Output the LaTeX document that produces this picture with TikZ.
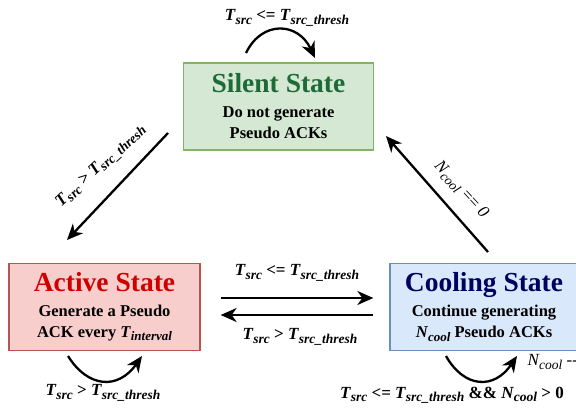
\documentclass[tikz,border=0pt]{standalone}
\usepackage{fontspec}
\setmainfont{Liberation Serif}
\usetikzlibrary{arrows.meta}
\definecolor{gfill}{HTML}{D5E8D4}
\definecolor{gline}{HTML}{82B366}
\definecolor{gtext}{HTML}{1E6B38}
\definecolor{rfill}{HTML}{F8CECC}
\definecolor{rline}{HTML}{B85450}
\definecolor{rtext}{HTML}{D00000}
\definecolor{bfill}{HTML}{DAE8FC}
\definecolor{bline}{HTML}{6C8EBF}
\definecolor{btext}{HTML}{00005E}
\newcommand\Lsub[2]{{\itshape #1\kern0.02em\raisebox{-0.42ex}{\fontsize{13.5}{13.5}\selectfont #2}}}
\newcommand\Bsub[2]{{\itshape #1\kern0.02em\raisebox{-0.42ex}{\fontsize{13}{13}\selectfont #2}}}
\newcommand\ttl{\fontsize{27.5}{30}\selectfont\bfseries}
\newcommand\bdy{\fontsize{16.5}{21}\selectfont\bfseries}
\newcommand\lbl{\fontsize{17}{18}\selectfont\bfseries}
\newcommand\lblr{\fontsize{17}{18}\selectfont}
\begin{document}
\begin{tikzpicture}[x=1pt,y=-1pt,
  state/.style={draw, line width=1.3pt, minimum height=87pt, inner sep=0pt, align=center, font=\bdy},
  conn/.style={line width=2.3pt, -{Stealth[length=16pt,width=14pt,inset=5pt]}},
  loop/.style={line width=2.3pt, -{Stealth[length=16pt,width=14pt,inset=5pt]}}]
\useasboundingbox (0,0) rectangle (576,409);
\clip (0,0) rectangle (576,409);
\node[state, fill=gfill, draw=gline, minimum width=190pt] (silent) at (278.5,106.5)
  {{\ttl\color{gtext}Silent State}\\[4pt]Do not generate\\Pseudo ACKs};
\node[state, fill=rfill, draw=rline, minimum width=191pt] (active) at (104.5,307)
  {{\ttl\color{rtext}Active State}\\[4pt]Generate a Pseudo\\ACK every \Bsub{T}{interval}};
\node[state, fill=bfill, draw=bline, minimum width=188pt] (cool) at (484,307)
  {{\ttl\color{btext}Cooling State}\\[4pt]Continue generating\\\Bsub{N}{cool} Pseudo ACKs};
% self loops
\coordinate (s1) at (246,53); \coordinate (s2) at (315,58);
\draw[loop] (s1) .. controls (262,20) and (298,22) .. (s2);
\node (ls) at (287,18) {\lbl \Lsub{T}{src} <= \Lsub{T}{src\_thresh}};
\coordinate (a1) at (68,356); \coordinate (a2) at (142,356);
\draw[loop] (a1) .. controls (88,388) and (118,390) .. (a2);
\node (la) at (103,393) {\lbl \Lsub{T}{src} > \Lsub{T}{src\_thresh}};
\coordinate (c1) at (446,356); \coordinate (c2) at (517,356);
\draw[loop] (c1) .. controls (464,388) and (494,390) .. (c2);
\node (lc) at (452,395) {\lbl \Lsub{T}{src} <= \Lsub{T}{src\_thresh} \&\& \Lsub{N}{cool} > 0};
\node[anchor=west] (lc2) at (524,362) {\lblr \Lsub{N}{cool} -{}-};
% horizontal arrows
\draw[conn] ([yshift=9pt,xshift=20pt]active.east) -- ([yshift=9pt,xshift=-16pt]cool.west);
\draw[conn] ([yshift=-8pt,xshift=-16pt]cool.west) -- ([yshift=-8pt,xshift=20pt]active.east);
\node (lh1) at (297,273) {\lbl \Lsub{T}{src} <= \Lsub{T}{src\_thresh}};
\node (lh2) at (300,337) {\lbl \Lsub{T}{src} > \Lsub{T}{src\_thresh}};
% diagonals
\coordinate (d1) at (168,133); \coordinate (d2) at (67,240);
\draw[conn] (d1) -- (d2);
\node[rotate=43] (ld1) at (101,166) {\lbl \Lsub{T}{src} > \Lsub{T}{src\_thresh}};
\coordinate (e1) at (488,252); \coordinate (e2) at (386,136);
\draw[conn] (e1) -- (e2);
\node[rotate=-47] (ld2) at (461,190) {\lblr \Lsub{N}{cool} == \textit{0}};
\end{tikzpicture}
\end{document}
